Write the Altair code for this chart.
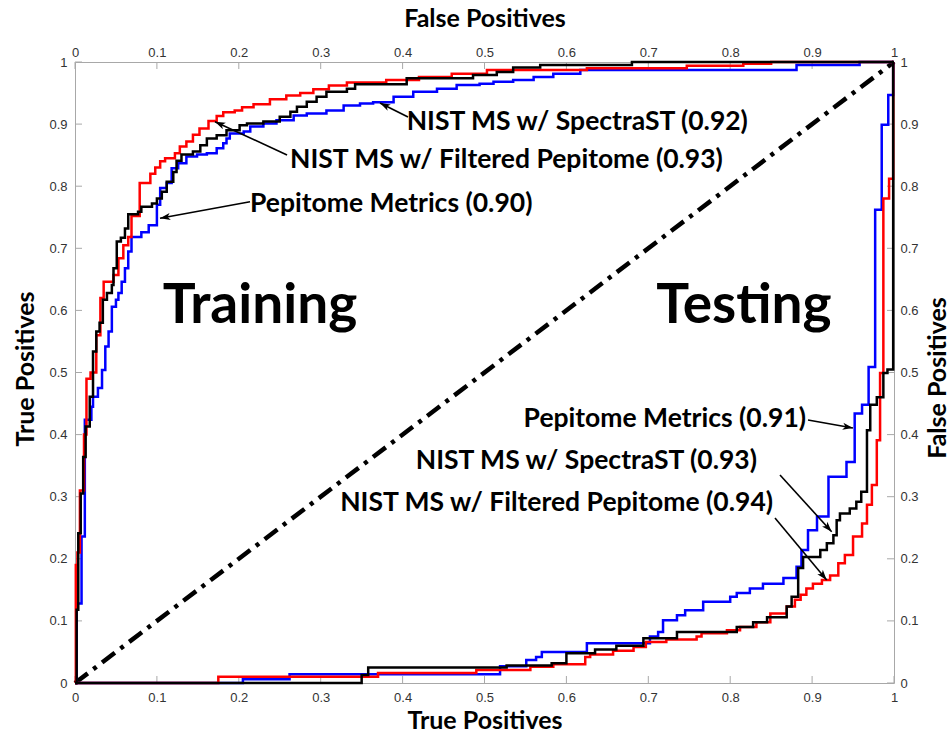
import math
import altair as alt
import pandas as pd

# ---------------- data ----------------
# Training ROC curves: x = False Positives, y = True Positives
train_red_fp = [0, 0.001, 0.003, 0.006, 0.011, 0.014, 0.019, 0.026, 0.031, 0.035, 0.047, 0.053, 0.059, 0.065,
                0.069, 0.079, 0.092, 0.098, 0.104, 0.110, 0.122, 0.128, 0.136, 0.144, 0.152, 0.163, 0.173, 0.181,
                0.195, 0.204, 0.218, 0.238, 0.258, 0.275, 0.291, 0.310, 0.332, 0.380, 0.420, 0.460, 0.503, 0.625,
                0.747, 0.816, 0.850, 1.0]
train_red_tp = [0, 0.19, 0.21, 0.31, 0.40, 0.49, 0.50, 0.56, 0.62, 0.646, 0.657, 0.684, 0.705, 0.718,
                0.752, 0.805, 0.82, 0.83, 0.84, 0.845, 0.853, 0.864, 0.872, 0.883, 0.893, 0.905, 0.913, 0.919,
                0.922, 0.927, 0.932, 0.94, 0.946, 0.95, 0.956, 0.962, 0.967, 0.971, 0.976, 0.981, 0.987, 0.99,
                0.994, 0.997, 1.0, 1.0]

train_black_fp = [0, 0.002, 0.004, 0.007, 0.010, 0.013, 0.018, 0.022, 0.026, 0.030, 0.034, 0.039, 0.045, 0.047,
                  0.051, 0.056, 0.061, 0.065, 0.077, 0.081, 0.094, 0.100, 0.106, 0.112, 0.120, 0.124, 0.130, 0.144,
                  0.153, 0.161, 0.173, 0.185, 0.201, 0.210, 0.230, 0.250, 0.263, 0.271, 0.283, 0.295, 0.307, 0.332,
                  0.342, 0.405, 0.486, 0.515, 0.535, 0.568, 0.680, 1.0]
train_black_tp = [0, 0.118, 0.241, 0.305, 0.364, 0.413, 0.461, 0.534, 0.566, 0.580, 0.617, 0.628, 0.641, 0.668,
                  0.711, 0.717, 0.732, 0.755, 0.759, 0.767, 0.772, 0.780, 0.791, 0.807, 0.823, 0.841, 0.851, 0.856,
                  0.866, 0.877, 0.882, 0.890, 0.898, 0.901, 0.904, 0.912, 0.920, 0.928, 0.936, 0.944, 0.952, 0.957,
                  0.964, 0.974, 0.979, 0.984, 0.991, 0.995, 1.0, 1.0]

train_blue_fp = [0, 0.002, 0.008, 0.012, 0.020, 0.022, 0.028, 0.033, 0.037, 0.041, 0.045, 0.050, 0.053, 0.057,
                 0.061, 0.065, 0.069, 0.081, 0.090, 0.100, 0.104, 0.112, 0.118, 0.126, 0.136, 0.149, 0.161, 0.173,
                 0.181, 0.185, 0.189, 0.206, 0.214, 0.230, 0.246, 0.267, 0.283, 0.307, 0.328, 0.348, 0.364, 0.389,
                 0.413, 0.442, 0.466, 0.494, 0.511, 0.535, 0.560, 0.584, 0.617, 0.881, 0.958, 1.0]
train_blue_tp = [0, 0.128, 0.236, 0.424, 0.445, 0.461, 0.475, 0.504, 0.542, 0.566, 0.606, 0.617, 0.628, 0.646,
                 0.668, 0.695, 0.718, 0.726, 0.737, 0.770, 0.797, 0.805, 0.829, 0.837, 0.848, 0.851, 0.853, 0.861,
                 0.869, 0.877, 0.885, 0.888, 0.896, 0.901, 0.906, 0.914, 0.917, 0.922, 0.930, 0.933, 0.935, 0.944,
                 0.952, 0.957, 0.963, 0.965, 0.968, 0.971, 0.976, 0.981, 0.987, 0.995, 1.0, 1.0]

# Testing curves: x = True Positives (bottom axis), y = False Positives (right axis)
test_black_tp = [0, 0.350, 0.358, 0.527, 0.582, 0.600, 0.635, 0.661, 0.694, 0.735, 0.808, 0.828, 0.845, 0.869,
                 0.875, 0.883, 0.889, 0.910, 0.918, 0.926, 0.930, 0.934, 0.946, 0.954, 0.960, 0.967, 0.971, 0.979,
                 0.987, 0.992, 0.999]
test_black_fp = [0, 0.013, 0.025, 0.028, 0.032, 0.048, 0.054, 0.060, 0.072, 0.082, 0.090, 0.098, 0.106, 0.123,
                 0.139, 0.185, 0.203, 0.214, 0.225, 0.238, 0.262, 0.273, 0.281, 0.292, 0.308, 0.407, 0.448, 0.460,
                 0.499, 0.505, 1.0]

test_red_tp = [0, 0.175, 0.370, 0.490, 0.556, 0.584, 0.623, 0.629, 0.657, 0.682, 0.697, 0.722, 0.759, 0.765,
               0.796, 0.812, 0.832, 0.849, 0.869, 0.879, 0.886, 0.893, 0.901, 0.912, 0.922, 0.932, 0.940, 0.950,
               0.961, 0.967, 0.973, 0.979, 0.983, 0.987, 0.994, 0.999]
test_red_fp = [0, 0.010, 0.016, 0.021, 0.026, 0.030, 0.042, 0.046, 0.052, 0.058, 0.066, 0.070, 0.075, 0.080,
               0.085, 0.090, 0.098, 0.112, 0.123, 0.134, 0.142, 0.152, 0.160, 0.166, 0.173, 0.193, 0.206, 0.236,
               0.257, 0.287, 0.319, 0.391, 0.499, 0.780, 0.812, 1.0]

test_blue_tp = [0, 0.205, 0.262, 0.519, 0.551, 0.563, 0.570, 0.625, 0.702, 0.712, 0.718, 0.735, 0.745, 0.767,
                0.800, 0.808, 0.824, 0.840, 0.865, 0.881, 0.887, 0.895, 0.906, 0.920, 0.942, 0.952, 0.961, 0.969,
                0.977, 0.985, 0.993, 0.999]
test_blue_fp = [0, 0.006, 0.014, 0.027, 0.037, 0.042, 0.050, 0.064, 0.075, 0.082, 0.101, 0.109, 0.117, 0.131,
                0.139, 0.145, 0.152, 0.160, 0.169, 0.187, 0.214, 0.246, 0.268, 0.332, 0.356, 0.434, 0.448, 0.509,
                0.762, 0.899, 0.947, 1.0]

tick_values = [0, 0.1, 0.2, 0.3, 0.4, 0.5, 0.6, 0.7, 0.8, 0.9, 1.0]
diag_x = [0, 1]
diag_y = [0, 1]

# Annotations (data units)
left_labels = ["NIST MS w/ SpectraST (0.92)", "NIST MS w/ Filtered Pepitome (0.93)", "Pepitome Metrics (0.90)"]
left_label_x = [0.405, 0.2625, 0.2137]
left_label_y = [0.903, 0.842, 0.771]

right_labels = ["Pepitome Metrics (0.91)", "NIST MS w/ SpectraST (0.93)", "NIST MS w/ Filtered Pepitome (0.94)"]
right_label_x = [0.8926, 0.8327, 0.8523]
right_label_y = [0.4251, 0.3575, 0.2899]

arrow_x0 = [0.4066, 0.2589, 0.2137, 0.895, 0.8608, 0.8547]
arrow_y0 = [0.9114, 0.8502, 0.7750, 0.4235, 0.3349, 0.2657]
arrow_x1 = [0.3724, 0.1709, 0.1038, 0.9499, 0.9239, 0.9178]
arrow_y1 = [0.9340, 0.9039, 0.7483, 0.4106, 0.2436, 0.1659]

big_labels = ["Training", "Testing"]
big_x = [0.2259, 0.8168]
big_y = [0.5797, 0.5797]

# ---------------- build ----------------
W, H = 819, 621
GRAY = "#a8a8a8"


def frame(xs, ys, name):
    assert len(xs) == len(ys), name
    return pd.DataFrame({"x": xs, "y": ys, "series": name, "order": list(range(len(xs)))})


blue_df = pd.concat([frame(train_blue_fp, train_blue_tp, "train"), frame(test_blue_tp, test_blue_fp, "test")])
red_df = pd.concat([frame(train_red_fp, train_red_tp, "train"), frame(test_red_tp, test_red_fp, "test")])
black_df = pd.concat([frame(train_black_fp, train_black_tp, "train"), frame(test_black_tp, test_black_fp, "test")])

sc = alt.Scale(domain=[0, 1], nice=False, zero=False)

common_axis = dict(values=tick_values, format="~g", ticks=False, tickSize=0, domain=False, grid=False,
                   labelFont="Liberation Sans", labelFontSize=13, labelColor="#333333",
                   labelOverlap=False, labelFlush=False,
                   titleFont="Lato", titleFontSize=25, titleFontWeight="bold", titleColor="#000000")

ax_top = alt.Axis(orient="top", title="False Positives", labelPadding=3,
                  titleBaseline="middle", titleY=-44, titleX=W / 2, **common_axis)
ax_left = alt.Axis(orient="left", title="True Positives", labelPadding=8, titleAngle=270,
                   titleBaseline="middle", titleX=-50, titleY=H / 2 - 4, **common_axis)
ax_bottom = alt.Axis(orient="bottom", title="True Positives", labelPadding=8,
                     titleBaseline="middle", titleY=37, titleX=W / 2, **common_axis)
ax_right = alt.Axis(orient="right", title="False Positives", labelPadding=6, titleAngle=270,
                    titleBaseline="middle", titleX=43, titleY=H / 2 + 5, **common_axis)


def curve(df, color, xaxis=None, yaxis=None):
    return alt.Chart(df).mark_line(interpolate="step-after", strokeWidth=2.5, color=color).encode(
        x=alt.X("x:Q", scale=sc, axis=xaxis),
        y=alt.Y("y:Q", scale=sc, axis=yaxis),
        detail="series:N",
        order="order:Q",
    )


blue_layer = curve(blue_df, "#0000ff", ax_top, ax_left)
red_layer = curve(red_df, "#ff0000", ax_bottom, ax_right)
black_layer = curve(black_df, "#000000")

diag = alt.Chart(pd.DataFrame({"x": diag_x, "y": diag_y})).mark_line(
    color="black", strokeWidth=4.5, strokeDash=[16, 7, 4, 7], strokeCap="butt"
).encode(x=alt.X("x:Q", scale=sc, axis=None), y=alt.Y("y:Q", scale=sc, axis=None))

ticks_df = pd.DataFrame({"v": tick_values})
tick_len = 7
tick_bottom = alt.Chart(ticks_df).mark_rule(color=GRAY, strokeWidth=1).encode(
    x=alt.X("v:Q", scale=sc, axis=None), y=alt.value(H), y2=alt.value(H - tick_len))
tick_top = alt.Chart(ticks_df).mark_rule(color=GRAY, strokeWidth=1).encode(
    x=alt.X("v:Q", scale=sc, axis=None), y=alt.value(0), y2=alt.value(tick_len))
tick_left = alt.Chart(ticks_df).mark_rule(color=GRAY, strokeWidth=1).encode(
    y=alt.Y("v:Q", scale=sc, axis=None), x=alt.value(0), x2=alt.value(tick_len))
tick_right = alt.Chart(ticks_df).mark_rule(color=GRAY, strokeWidth=1).encode(
    y=alt.Y("v:Q", scale=sc, axis=None), x=alt.value(W), x2=alt.value(W - tick_len))

# arrows
arr = pd.DataFrame({"x0": arrow_x0, "y0": arrow_y0, "x1": arrow_x1, "y1": arrow_y1})
arr["angle"] = [
    (math.degrees(math.atan2(-(b1 - b0) * H, (a1 - a0) * W))) % 360
    for a0, b0, a1, b1 in zip(arr.x0, arr.y0, arr.x1, arr.y1)
]
arrow_lines = alt.Chart(arr).mark_rule(color="black", strokeWidth=1.6).encode(
    x=alt.X("x0:Q", scale=sc, axis=None), y=alt.Y("y0:Q", scale=sc, axis=None),
    x2="x1:Q", y2="y1:Q")
arrow_heads = alt.Chart(arr).mark_point(
    shape="M0,0L-2.3,-0.8L-1.7,0L-2.3,0.8Z", filled=True, color="black", size=81, opacity=1
).encode(
    x=alt.X("x1:Q", scale=sc, axis=None), y=alt.Y("y1:Q", scale=sc, axis=None),
    angle=alt.Angle("angle:Q", scale=None))

ANN_SIZE = 26.5
left_text = alt.Chart(pd.DataFrame({"x": left_label_x, "y": left_label_y, "t": left_labels})).mark_text(
    align="left", baseline="middle", font="Lato", fontSize=ANN_SIZE, fontWeight="bold", color="black"
).encode(x=alt.X("x:Q", scale=sc, axis=None), y=alt.Y("y:Q", scale=sc, axis=None), text="t:N")
right_text = alt.Chart(pd.DataFrame({"x": right_label_x, "y": right_label_y, "t": right_labels})).mark_text(
    align="right", baseline="middle", font="Lato", fontSize=ANN_SIZE, fontWeight="bold", color="black"
).encode(x=alt.X("x:Q", scale=sc, axis=None), y=alt.Y("y:Q", scale=sc, axis=None), text="t:N")
big_text = alt.Chart(pd.DataFrame({"x": big_x, "y": big_y, "t": big_labels})).mark_text(
    align="center", baseline="alphabetic", font="Lato", fontSize=55, fontWeight="bold", color="black"
).encode(x=alt.X("x:Q", scale=sc, axis=None), y=alt.Y("y:Q", scale=sc, axis=None), text="t:N")

chart = alt.layer(
    tick_bottom, tick_top, tick_left, tick_right,
    diag, blue_layer, red_layer, black_layer,
    arrow_lines, arrow_heads, left_text, right_text, big_text,
).resolve_axis(x="independent", y="independent").properties(
    width=W, height=H,
    padding={"left": 75, "top": 62, "right": 950 - 75 - W, "bottom": 734 - 62 - H},
    autosize=alt.AutoSizeParams(type="none"),
    background="white",
).configure_view(stroke=GRAY, strokeWidth=1)

chart.save("out.html", embed_options={"renderer": "svg", "actions": False})
